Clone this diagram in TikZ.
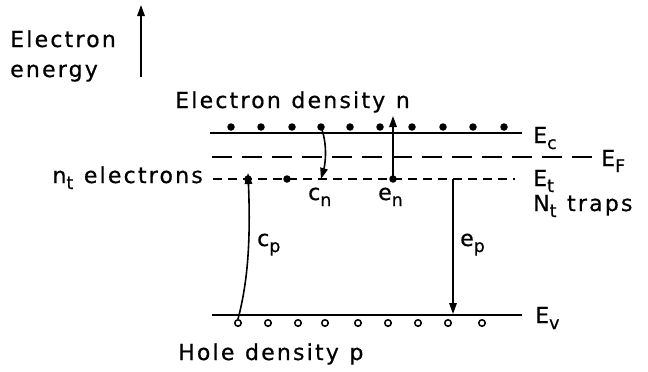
\documentclass[tikz,border=0pt]{standalone}
\usepackage{fontspec}
\setmainfont{DejaVu Sans}[LetterSpace=10,WordSpace=1.15,FakeBold=0.6]
\usetikzlibrary{arrows.meta}
\newcommand\lowsub[1]{\raisebox{-0.5ex}{\fontsize{17.5}{17.5}\selectfont #1}}
\begin{document}
\begin{tikzpicture}[x=1pt,y=-1pt,
  txt/.style={font=\fontsize{22}{26}\selectfont, inner sep=0pt},
  level/.style={line width=2.1pt},
  fermi/.style={line width=2pt, dash pattern=on 20pt off 10pt},
  trapline/.style={line width=1.8pt, dash pattern=on 9pt off 6pt},
  el/.style={circle, fill, inner sep=0pt, minimum size=7.5pt},
  hole/.style={circle, draw, line width=1.5pt, inner sep=0pt, minimum size=6.5pt},
  arr/.style={line width=1.6pt, -{Triangle[length=11pt,width=7.5pt]}}]
\useasboundingbox (0,0) rectangle (648,372);

% energy axis
\node[txt, anchor=base west] (lab1) at (10,47) {Electron};
\node[txt, anchor=base west] (lab2) at (10,77) {energy};
\coordinate (axb) at (141,77);
\coordinate (axt) at (141,5);
\draw[arr] (axb) -- (axt);

% levels
\coordinate (ec0) at (210,133); \coordinate (ec1) at (522,133);
\coordinate (ef0) at (212,157); \coordinate (ef1) at (592,157);
\coordinate (et0) at (213,179); \coordinate (et1) at (515,179);
\coordinate (ev0) at (212,315); \coordinate (ev1) at (522,315);
\draw[level] (ec0) -- (ec1);
\draw[fermi] (ef0) -- (ef1);
\draw[trapline] (et0) -- (et1);
\draw[level] (ev0) -- (ev1);

% labels
\node[txt, anchor=base west] (dn) at (175,108) {Electron density n};
\node[txt, anchor=base east] (nt) at (203,183) {n\lowsub{t} electrons};
\node[txt, anchor=base west] (Ec) at (533,143) {E\lowsub{c}};
\node[txt, anchor=base west] (EF) at (601,166) {E\lowsub{F}};
\node[txt, anchor=base west] (Et) at (533,186) {E\lowsub{t}};
\node[txt, anchor=base west] (Nt) at (533,211) {N\lowsub{t} traps};
\node[txt, anchor=base west] (Ev) at (535,323) {E\lowsub{v}};
\node[txt, anchor=base west] (hp) at (178,360) {Hole density p};

% electrons in conduction band
\foreach \x [count=\i] in {231,261,292,321,350,380,412,443,473,504}
  \node[el] (c\i) at (\x,127) {};
% holes in valence band
\foreach \x [count=\i] in {238,268,298,325,358,388,418,448,482}
  \node[hole] (v\i) at (\x,323) {};
% trapped electrons
\node[el] (t1) at (248,179) {};
\node[el] (t2) at (287,179) {};
\node[el] (t3) at (393,179) {};
\coordinate (cnend) at (321,179);
\coordinate (entop) at (393,116);
\coordinate (epstart) at (453,179);
\coordinate (epend) at (453,314);

% transitions
\draw[arr] (c4.center) .. controls (328,145) and (325,165) .. (cnend);
\draw[arr] (t3.center) -- (entop);
\draw[arr] (v1.north) .. controls (247,285) and (251,245) .. ([yshift=6pt]t1.center);
\draw[arr] (epstart) -- (epend);

\node[txt, anchor=base west] (lcn) at (308,200) {c\lowsub{n}};
\node[txt, anchor=base west] (len) at (378,200) {e\lowsub{n}};
\node[txt, anchor=base west] (lcp) at (257,246) {c\lowsub{p}};
\node[txt, anchor=base west] (lep) at (460,246) {e\lowsub{p}};
\end{tikzpicture}
\end{document}
